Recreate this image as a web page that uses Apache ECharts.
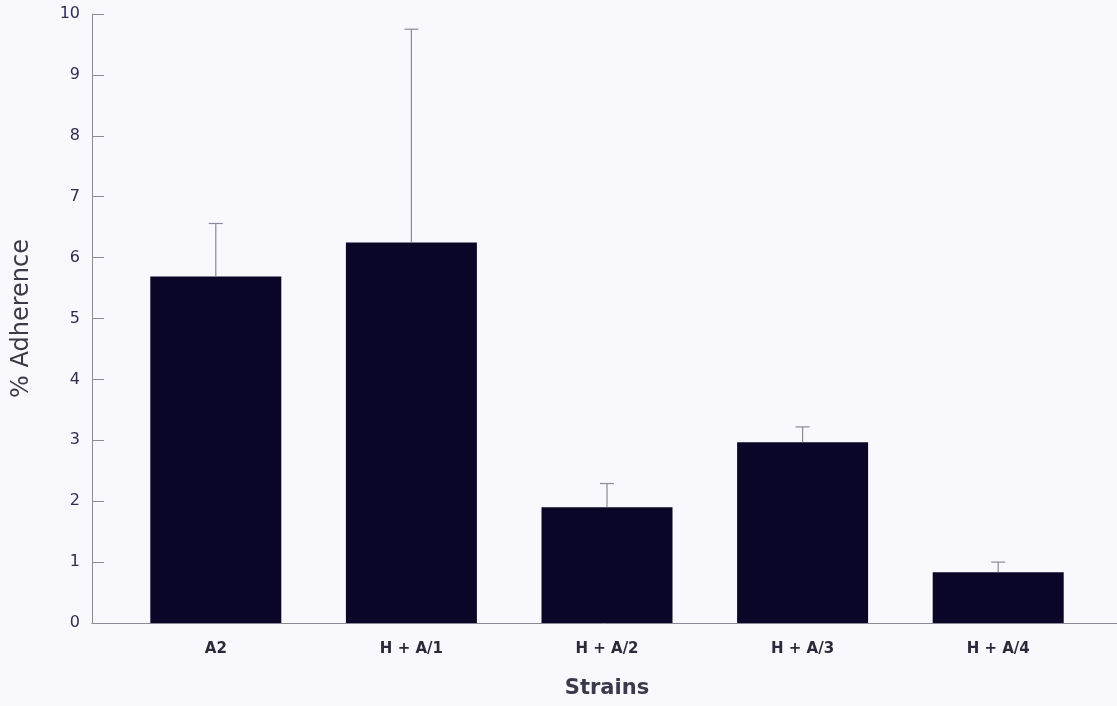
<!DOCTYPE html>
<html>
<head>
<meta charset="utf-8">
<script src="https://cdn.jsdelivr.net/npm/echarts@6/dist/echarts.min.js"></script>
<style>html,body{margin:0;padding:0;background:#f9f8fc;}#c{width:1117px;height:706px;}</style>
</head>
<body>
<div id="c"></div>
<script>
var categories = ['A2', 'H + A/1', 'H + A/2', 'H + A/3', 'H + A/4'];
var means = [5.69, 6.25, 1.90, 2.97, 0.835];
var errTops = [6.56, 9.75, 2.29, 3.22, 1.00];
var yTicks = [0, 1, 2, 3, 4, 5, 6, 7, 8, 9, 10];

var chart = echarts.init(document.getElementById('c'));
var font = 'DejaVu Sans, sans-serif';
chart.setOption({
  backgroundColor: '#f9f8fc',
  animation: false,
  grid: [
    {left: 118, right: 21, top: 14, bottom: 83},
    {left: 92, right: 0, top: 14, bottom: 83}
  ],
  xAxis: [
    {
      type: 'category', gridIndex: 0, data: categories,
      axisLine: {show: false}, axisTick: {show: false},
      axisLabel: {color: '#2a2a3a', fontSize: 15, fontWeight: 'bold', fontFamily: font, margin: 19},
      name: 'Strains', nameLocation: 'middle', nameGap: 55,
      nameTextStyle: {color: '#3a3a4a', fontSize: 21, fontWeight: 'bold', fontFamily: font}
    },
    {
      type: 'value', gridIndex: 1, min: 0, max: 1,
      axisLine: {show: true, lineStyle: {color: '#8a8a98', width: 1}},
      axisTick: {show: false}, axisLabel: {show: false}, splitLine: {show: false}
    }
  ],
  yAxis: [
    {
      type: 'value', gridIndex: 0, min: yTicks[0], max: yTicks[yTicks.length - 1], interval: 1,
      offset: 26,
      axisLine: {show: true, lineStyle: {color: '#8a8a98', width: 1}},
      axisTick: {show: true, inside: true, length: 12, lineStyle: {color: '#8a8a98'}},
      axisLabel: {color: '#2e2e50', fontSize: 16, fontFamily: font, margin: 12},
      splitLine: {show: false},
      name: '% Adherence', nameLocation: 'middle', nameGap: 58, nameRotate: 90,
      nameTextStyle: {color: '#3a3a4a', fontSize: 24, fontFamily: font}
    },
    {
      type: 'value', gridIndex: 1, min: 0, max: 1, show: false
    }
  ],
  series: [
    {
      type: 'bar', xAxisIndex: 0, yAxisIndex: 0, data: means,
      barWidth: 131, itemStyle: {color: '#0a0628'}
    },
    {
      type: 'custom', xAxisIndex: 0, yAxisIndex: 0,
      data: categories.map(function (c, i) { return [i, means[i], errTops[i]]; }),
      renderItem: function (params, api) {
        var base = api.coord([api.value(0), api.value(1)]);
        var top = api.coord([api.value(0), api.value(2)]);
        var half = 7;
        var style = {stroke: '#8a8a98', lineWidth: 1.2};
        return {
          type: 'group',
          children: [
            {type: 'line', shape: {x1: base[0], y1: base[1], x2: top[0], y2: top[1]}, style: style},
            {type: 'line', shape: {x1: top[0] - half, y1: top[1], x2: top[0] + half, y2: top[1]}, style: style}
          ]
        };
      },
      z: 5
    }
  ]
});
</script>
</body>
</html>
